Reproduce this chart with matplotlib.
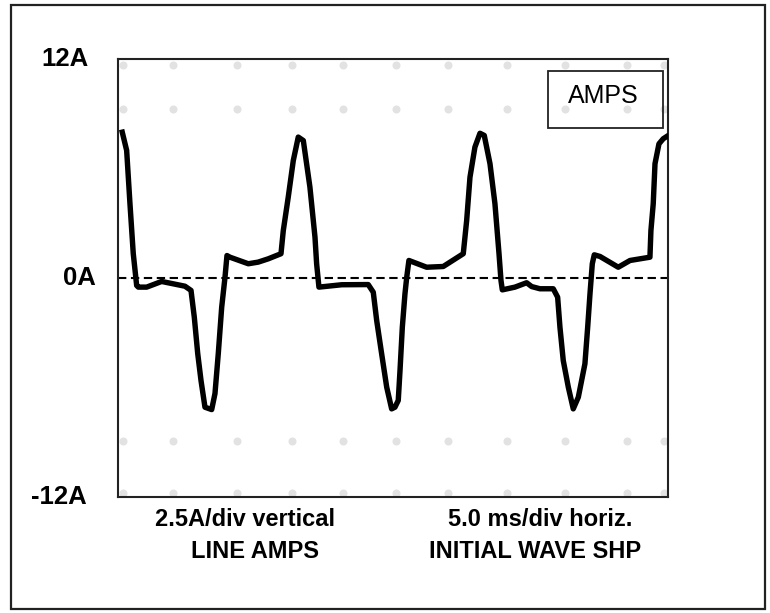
import numpy as np
import matplotlib.pyplot as plt
from matplotlib.patches import Rectangle

plt.rcParams['font.family'] = ['Liberation Sans', 'DejaVu Sans']

# time in ms (5.0 ms/div), current in A
t_ms = [0.39, 0.79, 1.09, 1.39, 1.70, 1.85, 2.61, 3.97, 5.03, 6.09,
        6.64, 6.94, 7.25, 7.55, 7.91, 8.52, 8.82, 9.12, 9.43, 9.73,
        9.91, 10.18, 11.85, 12.75, 13.66, 14.82, 15.03, 15.48, 15.94, 16.39,
        16.85, 17.45, 17.91, 18.06, 18.27, 20.34, 22.75, 23.21, 23.52, 23.97,
        24.43, 24.88, 25.18, 25.48, 25.64, 25.85, 26.09, 26.25, 26.45, 28.06,
        29.57, 31.39, 31.70, 32.00, 32.45, 32.91, 33.30, 33.82, 34.27, 34.64,
        34.82, 34.94, 36.09, 37.15, 37.61, 38.36, 39.57, 39.97, 40.18, 40.48,
        40.94, 41.39, 41.85, 42.45, 42.70, 42.91, 43.12, 43.30, 43.82, 45.48,
        46.55, 48.36, 48.45, 48.66, 48.82, 49.18, 49.57, 49.88]
amps = [7.99, 6.99, 4.08, 1.34, -0.41, -0.50, -0.50, -0.19, -0.32, -0.45,
        -0.68, -2.15, -4.14, -5.62, -7.08, -7.21, -6.33, -4.14, -1.60, 0.04,
        1.23, 1.14, 0.78, 0.87, 1.05, 1.33, 2.60, 4.43, 6.44, 7.72,
        7.53, 4.98, 2.24, 0.78, -0.50, -0.37, -0.36, -0.78, -2.33, -4.15,
        -5.98, -7.17, -7.08, -6.71, -5.07, -2.70, -0.87, 0.04, 0.96, 0.59,
        0.63, 1.33, 3.15, 5.52, 7.17, 7.93, 7.81, 6.26, 4.07, 1.33,
        -0.14, -0.65, -0.50, -0.26, -0.47, -0.59, -0.59, -1.05, -2.70, -4.52,
        -5.98, -7.17, -6.53, -4.70, -2.70, -0.87, 0.78, 1.27, 1.18, 0.59,
        0.96, 1.14, 2.60, 4.07, 6.26, 7.35, 7.63, 7.75]

y_labels = ['12A', '0A', '-12A']
y_label_vals = [12, 0, -12]
y_label_x = [-0.053, -0.040, -0.056]

dot_cols = [0.45, 5.0, 10.8, 15.8, 20.5, 25.3, 30.0, 35.4, 40.6, 46.3, 49.6]
dot_rows = [11.67, 9.25, -8.94, -11.79]

fig = plt.figure(figsize=(7.7, 6.13), dpi=100)
fig.patch.set_facecolor('white')
fig.patches.append(Rectangle((0.0143, 0.0065), 0.979, 0.9853, transform=fig.transFigure,
                             fill=False, lw=1.6, ec='#222222'))

ax = fig.add_axes([0.1532, 0.1892, 0.7143, 0.7146])
ax.set_xlim(0, 50)
ax.set_ylim(-12, 12)

dx, dy = np.meshgrid(dot_cols, dot_rows)
ax.plot(dx.ravel(), dy.ravel(), 'o', ms=5.8, color='#e2e2e2', mec='none', clip_on=False, zorder=1)

ax.axhline(0, color='black', lw=1.5, dashes=(4, 2.2), zorder=2)
ax.plot(t_ms, amps, color='black', lw=3.9, solid_joinstyle='round', zorder=3)

for lab, v, xp in zip(y_labels, y_label_vals, y_label_x):
    ax.text(xp, v, lab, transform=ax.get_yaxis_transform(), ha='right', va='center',
            fontsize=18.5, fontweight='bold')

ax.set_xticks([])
ax.set_yticks([])
for s in ax.spines.values():
    s.set_linewidth(1.5)
    s.set_color('#222222')

fig.patches.append(Rectangle((0.7117, 0.7912), 0.1494, 0.093, transform=fig.transFigure,
                             fill=False, lw=1.3, ec='#222222', zorder=5))
fig.text(603 / 770, 1 - 96 / 613, 'AMPS', ha='center', va='center', fontsize=18)

fig.text(245 / 770, 1 - 519 / 613, '2.5A/div vertical', ha='center', va='center',
         fontsize=17, fontweight='bold')
fig.text(540 / 770, 1 - 519 / 613, '5.0 ms/div horiz.', ha='center', va='center',
         fontsize=17, fontweight='bold')
fig.text(255 / 770, 1 - 552 / 613, 'LINE AMPS', ha='center', va='center',
         fontsize=17, fontweight='bold')
fig.text(535 / 770, 1 - 552 / 613, 'INITIAL WAVE SHP', ha='center', va='center',
         fontsize=17, fontweight='bold')

fig.savefig('out.png', dpi=100)
